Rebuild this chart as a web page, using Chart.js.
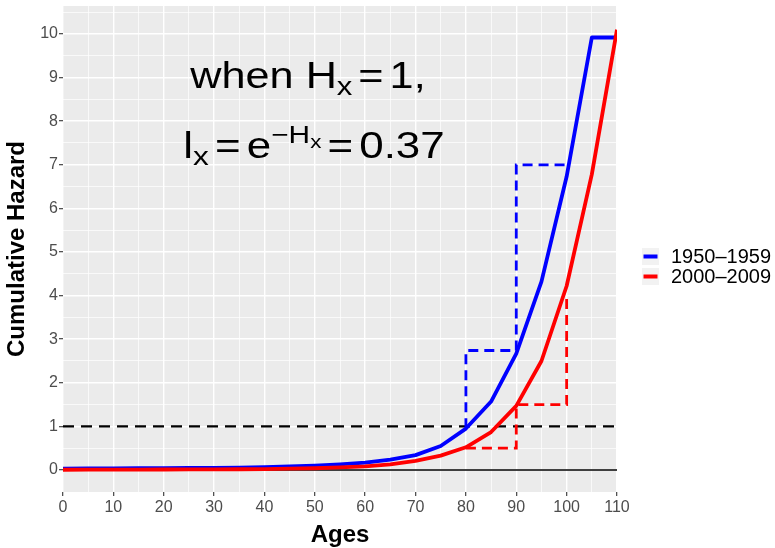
<!DOCTYPE html>
<html><head><meta charset="utf-8">
<script src="https://cdn.jsdelivr.net/npm/chart.js@4.4.0/dist/chart.umd.min.js"></script>
<style>
body{margin:0;background:#fff;}
#wrap{position:relative;width:775px;height:548px;overflow:hidden;}
.ann{position:absolute;font-family:"Liberation Sans",Arial,sans-serif;font-size:36px;line-height:36px;color:#000;white-space:nowrap;transform-origin:50% 50%;}
.sb{font-size:0.72em;position:relative;top:0.28em;}
.sp{font-size:0.68em;position:relative;top:-0.62em;}
.sb2{font-size:0.75em;position:relative;top:0.3em;}
.op{margin:0 5px;}
</style></head>
<body><div id="wrap"><canvas id="c" width="775" height="548"></canvas>
<div class="ann" id="a1" style="left:308px;top:58px;transform:translateX(-50%) scaleX(1.2);">when H<span class="sb">x</span><span class="op">=</span>1,</div>
<div class="ann" id="a2" style="left:314px;top:128px;transform:translateX(-50%) scaleX(1.22);">l<span class="sb">x</span><span class="op">=</span>e<span class="sp">−H<span class="sb2">x</span></span><span class="op">=</span>0.37</div>
</div>
<script>
// ---- data ----
const ages = [0,5,10,15,20,25,30,35,40,45,50,55,60,65,70,75,80,85,90,95,100,105,110];
const hazard1950 = [0.03,0.035,0.037,0.04,0.042,0.045,0.05,0.055,0.065,0.08,0.1,0.13,0.17,0.24,0.34,0.55,0.95,1.57,2.67,4.32,6.73,9.92,9.92];
const hazard2000 = [0.005,0.007,0.008,0.009,0.011,0.013,0.015,0.017,0.02,0.03,0.04,0.06,0.085,0.13,0.21,0.33,0.52,0.87,1.47,2.5,4.22,6.78,10.1];
const stepAges1950 = [80,80,90,90,100];
const stepH1950 = [0.96,2.74,2.74,7.0,7.0];
const stepAges2000 = [80,90,90,100,100];
const stepH2000 = [0.5,0.5,1.5,1.5,4.0];
const refAges = [0,110];
const refH = [1,1];
const zeroH = [0,0];
const seriesLabels = ['1950–1959','2000–2009'];
const seriesColors = ['#0000FF','#FF0000'];
const xTicks = [0,5,10,15,20,25,30,35,40,45,50,55,60,65,70,75,80,85,90,95,100,105,110];
const yTicks = [0,0.5,1,1.5,2,2.5,3,3.5,4,4.5,5,5.5,6,6.5,7,7.5,8,8.5,9,9.5,10,10.5];

const pts = (xs, ys) => xs.map((x,i)=>({x:x,y:ys[i]}));
const FONT = '"Liberation Sans", Arial, sans-serif';

const bgPlugin = {
  id:'bg',
  beforeDraw(chart){
    const {ctx, chartArea:a} = chart;
    ctx.save();
    ctx.fillStyle = '#EBEBEB';
    ctx.fillRect(a.left, a.top, a.right-a.left, a.bottom-a.top);
    ctx.restore();
  }
};
const legendPlugin = {
  id:'leg',
  afterDraw(chart){
    const ctx = chart.ctx;
    ctx.save();
    for (let i=0;i<2;i++){
      const top = 248 + i*20;
      ctx.fillStyle = '#F2F2F2';
      ctx.fillRect(642, top, 17, 17);
      ctx.strokeStyle = seriesColors[i];
      ctx.lineWidth = 4;
      ctx.beginPath();
      ctx.moveTo(643.5, top+8.5);
      ctx.lineTo(657.5, top+8.5);
      ctx.stroke();
      ctx.fillStyle = '#000';
      ctx.font = '20px ' + FONT;
      ctx.textBaseline = 'middle';
      ctx.textAlign = 'left';
      ctx.fillText(seriesLabels[i], 671, top+9);
    }
    ctx.restore();
  }
};

const isInt = v => Math.abs(v - Math.round(v)) < 1e-9;
const isTen = v => Math.abs(v/10 - Math.round(v/10)) < 1e-9;

new Chart(document.getElementById('c'), {
  type:'line',
  data:{datasets:[
    {label:seriesLabels[1], data:pts(ages,hazard2000), borderColor:seriesColors[1], borderWidth:3.8, pointRadius:0, tension:0, borderJoinStyle:'round'},
    {label:seriesLabels[0], data:pts(ages,hazard1950), borderColor:seriesColors[0], borderWidth:3.8, pointRadius:0, tension:0, borderJoinStyle:'round'},
    {label:'step1950', data:pts(stepAges1950,stepH1950), borderColor:seriesColors[0], borderWidth:2.8, borderDash:[10,6], pointRadius:0, tension:0},
    {label:'step2000', data:pts(stepAges2000,stepH2000), borderColor:seriesColors[1], borderWidth:2.8, borderDash:[10,6], pointRadius:0, tension:0},
    {label:'ref', data:pts(refAges,refH), borderColor:'#000', borderWidth:2.2, borderDash:[11,7], pointRadius:0},
    {label:'zero', data:pts(refAges,zeroH), borderColor:'#000', borderWidth:1.5, pointRadius:0}
  ]},
  options:{
    responsive:false, animation:false, devicePixelRatio:1,
    layout:{padding:{left:0,right:158,top:6,bottom:0}},
    plugins:{legend:{display:false}, tooltip:{enabled:false}},
    scales:{
      x:{
        type:'linear', min:0, max:110,
        afterBuildTicks(s){ s.ticks = xTicks.map(v=>({value:v})); },
        afterFit(s){ s.height = 56; s.paddingLeft = 0; s.paddingRight = 0; },
        border:{display:false},
        grid:{
          color:'#FFFFFF',
          lineWidth:c=> (c.tick && isTen(c.tick.value)) ? 1.4 : 0.7,
          tickColor:c=> (c.tick && isTen(c.tick.value)) ? '#333333' : 'rgba(0,0,0,0)',
          tickWidth:1.1, tickLength:4, drawTicks:true
        },
        ticks:{
          autoSkip:false, maxRotation:0, minRotation:0, padding:2,
          color:'#4D4D4D', font:{family:FONT,size:16},
          callback:v=> isTen(v) ? String(v) : ''
        },
        title:{display:true, text:'Ages', color:'#000', font:{family:FONT,size:24,weight:'bold',lineHeight:1}, padding:{top:0,bottom:1}}
      },
      y:{
        type:'linear', min:-0.505, max:10.642,
        afterBuildTicks(s){ s.ticks = yTicks.map(v=>({value:v})); },
        afterFit(s){ s.width = 63; s.paddingTop = 0; s.paddingBottom = 0; },
        border:{display:false},
        grid:{
          color:'#FFFFFF',
          lineWidth:c=> (c.tick && isInt(c.tick.value)) ? 1.4 : 0.7,
          tickColor:c=> (c.tick && isInt(c.tick.value)) ? '#333333' : 'rgba(0,0,0,0)',
          tickWidth:1.1, tickLength:4, drawTicks:true
        },
        ticks:{
          autoSkip:false, padding:1,
          color:'#4D4D4D', font:{family:FONT,size:16},
          callback:v=> isInt(v) ? String(Math.round(v)) : ''
        },
        title:{display:true, text:'Cumulative Hazard', color:'#000', font:{family:FONT,size:24,weight:'bold',lineHeight:1}, padding:{top:5,bottom:0}}
      }
    }
  },
  plugins:[bgPlugin, legendPlugin]
});
</script>
</body></html>
